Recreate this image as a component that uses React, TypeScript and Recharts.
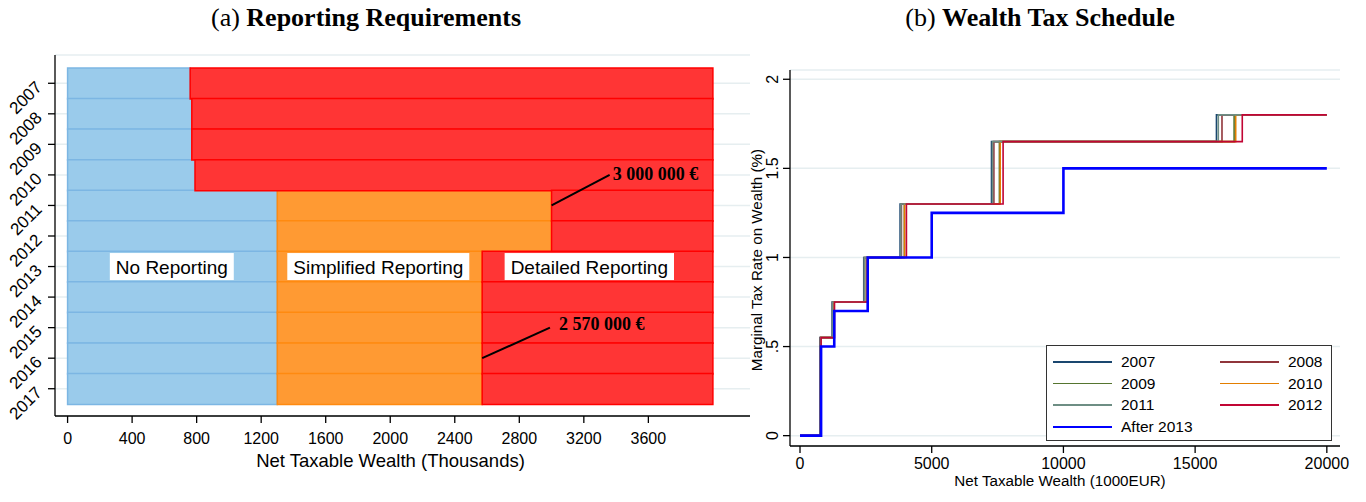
import {
  BarChart,
  Bar,
  XAxis,
  YAxis,
  CartesianGrid,
  ReferenceLine,
  ReferenceDot,
  LineChart,
  Line,
  Legend,
} from "recharts";

// ---------- panel (a): reporting requirements ----------
const YEARS = ["2007", "2008", "2009", "2010", "2011", "2012", "2013", "2014", "2015", "2016", "2017"];
// upper bound of the no-reporting band (thousand €)
const NO_REPORTING_MAX = [760, 770, 770, 790, 1300, 1300, 1300, 1300, 1300, 1300, 1300];
// upper bound of the simplified band (same as above when there is none)
const SIMPLIFIED_MAX = [760, 770, 770, 790, 3000, 3000, 2570, 2570, 2570, 2570, 2570];
const WEALTH_CAP = 4000;
const A_TICKS = [0, 400, 800, 1200, 1600, 2000, 2400, 2800, 3200, 3600];

// ---------- panel (b): wealth tax schedule ----------
const RATES = [0, 0.55, 0.75, 1, 1.3, 1.65, 1.8];
const BRACKETS_2007 = [0, 760, 1220, 2420, 3800, 7270, 15810];
const BRACKETS_2008 = [0, 770, 1240, 2450, 3850, 7360, 16020];
const BRACKETS_2009 = [0, 790, 1280, 2520, 3960, 7570, 16480];
const BRACKETS_2010 = [0, 790, 1290, 2530, 3970, 7600, 16540];
const BRACKETS_2011 = [0, 780, 1240, 2440, 3830, 7310, 15880];
const BRACKETS_2012 = [0, 800, 1310, 2570, 4040, 7710, 16790];
const RATES_2013 = [0, 0.5, 0.7, 1, 1.25, 1.5];
const BRACKETS_2013 = [0, 800, 1300, 2570, 5000, 10000];
const WEALTH_END = 20000;
const B_X_TICKS = [0, 5000, 10000, 15000, 20000];
const B_Y_TICKS = [0, 0.5, 1, 1.5, 2];

const SANS = '"Liberation Sans", Arial, Helvetica, sans-serif';
const SERIF = '"Liberation Serif", "Times New Roman", serif';

const rows = YEARS.map((year, i) => ({
  year,
  none: NO_REPORTING_MAX[i],
  simplified: SIMPLIFIED_MAX[i] - NO_REPORTING_MAX[i],
  detailed: WEALTH_CAP - SIMPLIFIED_MAX[i],
}));

const steps = (brackets: number[], rates: number[]) => [
  ...brackets.map((x, i) => ({ x, y: rates[i] })),
  { x: WEALTH_END, y: rates[rates.length - 1] },
];

const schedules = [
  { name: "2007", color: "#1a476f", width: 1.6, data: steps(BRACKETS_2007, RATES) },
  { name: "2008", color: "#90353b", width: 1.6, data: steps(BRACKETS_2008, RATES) },
  { name: "2009", color: "#55752f", width: 1.6, data: steps(BRACKETS_2009, RATES) },
  { name: "2010", color: "#e37e00", width: 1.6, data: steps(BRACKETS_2010, RATES) },
  { name: "2011", color: "#6e8e84", width: 1.6, data: steps(BRACKETS_2011, RATES) },
  { name: "2012", color: "#c10534", width: 1.6, data: steps(BRACKETS_2012, RATES) },
  { name: "After 2013", color: "#0000ff", width: 2.6, data: steps(BRACKETS_2013, RATES_2013) },
];

let ctx: CanvasRenderingContext2D | null = null;
function textWidth(text: string, font: string) {
  if (!ctx) ctx = document.createElement("canvas").getContext("2d");
  if (!ctx) return text.length * 10;
  ctx.font = font;
  return ctx.measureText(text).width;
}

function BoxLabel(props: any) {
  const { viewBox, text } = props;
  const cx = viewBox.x + viewBox.width / 2;
  const cy = viewBox.y + viewBox.height / 2;
  const w = textWidth(text, `19px ${SANS}`) + 12;
  return (
    <g>
      <rect x={cx - w / 2} y={cy - 13.5} width={w} height={27} fill="#ffffff" />
      <text x={cx} y={cy + 7} textAnchor="middle" fontSize={19} fill="#000">
        {text}
      </text>
    </g>
  );
}

function AmountLabel(props: any) {
  const { viewBox, text, dx = 3, dy = 0 } = props;
  return (
    <text
      x={viewBox.x + dx}
      y={viewBox.y + dy + 6}
      fontFamily={SERIF}
      fontWeight="bold"
      fontSize={18}
      fill="#000"
    >
      {text}
    </text>
  );
}

function YearTick(props: any) {
  const { x, y, payload } = props;
  const ty = y + 5;
  return (
    <text
      x={x}
      y={ty}
      textAnchor="end"
      fontSize={17}
      fill="#000"
      transform={`rotate(-45, ${x}, ${ty})`}
    >
      {payload.value}
    </text>
  );
}

function RateTick(props: any) {
  const { x, y, payload } = props;
  const v = payload.value;
  const label = v === 0.5 ? ".5" : String(v);
  return (
    <text
      x={x}
      y={y}
      textAnchor="middle"
      fontSize={16}
      fill="#000"
      transform={`rotate(-90, ${x}, ${y})`}
    >
      {label}
    </text>
  );
}

function XTitle(props: any) {
  const { viewBox, text, dx = 0, dy, size } = props;
  return (
    <text
      x={viewBox.x + viewBox.width / 2 + dx}
      y={viewBox.y + dy}
      textAnchor="middle"
      fontSize={size}
      fill="#000"
    >
      {text}
    </text>
  );
}

function YTitle(props: any) {
  const { viewBox, text } = props;
  const x = viewBox.x + 22;
  const y = viewBox.y + viewBox.height / 2 + 2;
  return (
    <text x={x} y={y} textAnchor="middle" fontSize={15.2} fill="#000" transform={`rotate(-90, ${x}, ${y})`}>
      {text}
    </text>
  );
}

function ScheduleLegend() {
  return (
    <div
      style={{
        border: "1px solid #333",
        background: "#fff",
        boxSizing: "border-box",
        width: 286,
        height: 96,
        paddingTop: 5,
        display: "grid",
        gridTemplateColumns: "167px 117px",
        gridAutoRows: "21.7px",
        fontFamily: SANS,
        fontSize: 15.5,
        color: "#000",
      }}
    >
      {schedules.map((s) => (
        <div key={s.name} style={{ display: "flex", alignItems: "center" }}>
          <span
            style={{
              display: "inline-block",
              marginLeft: 6,
              width: 59,
              height: s.name === "After 2013" ? 2.4 : 1.6,
              background: s.color,
            }}
          />
          <span style={{ marginLeft: 9 }}>{s.name}</span>
        </div>
      ))}
    </div>
  );
}

const titleStyle = {
  position: "absolute" as const,
  top: 3,
  width: 440,
  textAlign: "center" as const,
  fontFamily: SERIF,
  fontSize: 26,
  lineHeight: "30px",
};

export default function App() {
  return (
    <div
      style={{
        position: "absolute",
        left: 0,
        top: 0,
        width: 1366,
        height: 502,
        background: "#ffffff",
        fontFamily: SANS,
        overflow: "hidden",
      }}
    >
      <div style={{ ...titleStyle, left: 146 }}>
        (a) <b>Reporting Requirements</b>
      </div>
      <div style={{ ...titleStyle, left: 820 }}>
        (b) <b>Wealth Tax Schedule</b>
      </div>

      <div style={{ position: "absolute", left: 0, top: 0 }}>
        <BarChart
          width={760}
          height={502}
          data={rows}
          layout="vertical"
          barCategoryGap={0}
          barGap={0}
          margin={{ top: 55, right: 10, left: 0, bottom: 20 }}
        >
          <CartesianGrid horizontal vertical={false} stroke="#e6eef0" strokeWidth={1.5} />
          <XAxis
            type="number"
            domain={[-78, 4230]}
            ticks={A_TICKS}
            allowDataOverflow
            interval={0}
            height={66}
            tickSize={7}
            tickMargin={10}
            stroke="#000"
            strokeWidth={1.3}
            tick={{ fontSize: 16, fill: "#000" }}
            label={<XTitle text="Net Taxable Wealth (Thousands)" dx={-12} dy={50.5} size={18.5} />}
          />
          <YAxis
            type="category"
            dataKey="year"
            width={55}
            interval={0}
            tickSize={7}
            tickMargin={5}
            padding={{ top: 13, bottom: 12 }}
            stroke="#000"
            strokeWidth={1.3}
            tick={<YearTick />}
          />
          <Bar dataKey="none" stackId="a" fill="#9acbeb" stroke="#7cb6e3" strokeWidth={1.5} isAnimationActive={false} />
          <Bar dataKey="simplified" stackId="a" fill="#ff9a33" stroke="#ff8a10" strokeWidth={1.5} isAnimationActive={false} />
          <Bar dataKey="detailed" stackId="a" fill="#ff3535" stroke="#ff0000" strokeWidth={1.5} isAnimationActive={false} />

          <ReferenceDot x={646} y="2013" r={0} fill="none" stroke="none" label={<BoxLabel text="No Reporting" />} />
          <ReferenceDot x={1926} y="2013" r={0} fill="none" stroke="none" label={<BoxLabel text="Simplified Reporting" />} />
          <ReferenceDot x={3234} y="2013" r={0} fill="none" stroke="none" label={<BoxLabel text="Detailed Reporting" />} />

          <ReferenceLine
            segment={[
              { x: 3000, y: "2011" },
              { x: 3360, y: "2010" },
            ]}
            stroke="#000"
            strokeWidth={2}
            ifOverflow="visible"
          />
          <ReferenceDot x={3360} y="2010" r={0} fill="none" stroke="none" label={<AmountLabel text="3 000 000 €" dx={3} dy={-1} />} />
          <ReferenceLine
            segment={[
              { x: 2570, y: "2016" },
              { x: 2990, y: "2015" },
            ]}
            stroke="#000"
            strokeWidth={2}
            ifOverflow="visible"
          />
          <ReferenceDot x={2990} y="2015" r={0} fill="none" stroke="none" label={<AmountLabel text="2 570 000 €" dx={9} dy={-4} />} />
        </BarChart>
      </div>

      <div style={{ position: "absolute", left: 740, top: 0 }}>
        <LineChart width={626} height={502} margin={{ top: 70, right: 26, left: 0, bottom: 6 }}>
          <CartesianGrid horizontal vertical={false} stroke="#e6eef0" strokeWidth={1.5} />
          <XAxis
            type="number"
            dataKey="x"
            domain={[-380, 20500]}
            ticks={B_X_TICKS}
            allowDataOverflow
            interval={0}
            height={50}
            tickSize={7}
            tickMargin={5}
            stroke="#000"
            strokeWidth={1.3}
            tick={{ fontSize: 16, fill: "#000" }}
            label={<XTitle text="Net Taxable Wealth (1000EUR)" dx={-5} dy={40} size={15.2} />}
          />
          <YAxis
            type="number"
            dataKey="y"
            domain={[-0.058, 2.052]}
            ticks={B_Y_TICKS}
            allowDataOverflow
            interval={0}
            width={50}
            tickSize={7}
            tickMargin={5}
            stroke="#000"
            strokeWidth={1.3}
            tick={<RateTick />}
            label={<YTitle text="Marginal Tax Rate on Wealth (%)" />}
          />
          {schedules.map((s) => (
            <Line
              key={s.name}
              name={s.name}
              data={s.data}
              dataKey="y"
              type="stepAfter"
              stroke={s.color}
              strokeWidth={s.width}
              dot={false}
              activeDot={false}
              isAnimationActive={false}
            />
          ))}
          <Legend
            layout="horizontal"
            verticalAlign="middle"
            align="center"
            content={() => <ScheduleLegend />}
            wrapperStyle={{ position: "absolute", left: 306, top: 345, width: 286, height: 96 }}
          />
        </LineChart>
      </div>
    </div>
  );
}
